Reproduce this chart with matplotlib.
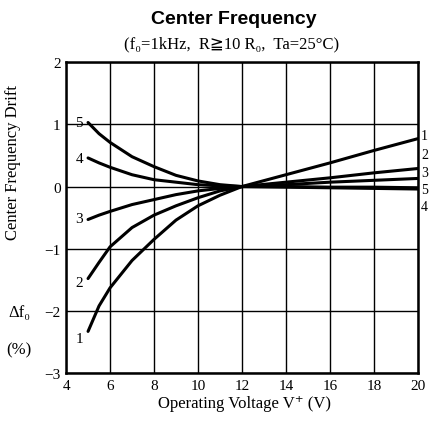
import matplotlib
matplotlib.use("Agg")
import matplotlib.pyplot as plt

# Data
volts = [5, 5.5, 6, 7, 8, 9, 10, 11, 12, 14, 16, 18, 20]
curve1 = [-2.33, -1.92, -1.63, -1.19, -0.85, -0.54, -0.31, -0.14, 0.0, 0.19, 0.38, 0.58, 0.77]
curve2 = [-1.48, -1.22, -0.97, -0.66, -0.46, -0.31, -0.18, -0.07, 0.0, 0.07, 0.14, 0.22, 0.29]
curve3 = [-0.53, -0.46, -0.40, -0.29, -0.21, -0.13, -0.07, -0.03, 0.0, 0.03, 0.07, 0.10, 0.13]
curve4 = [0.46, 0.38, 0.31, 0.19, 0.11, 0.07, 0.03, 0.01, 0.0, -0.01, -0.02, -0.03, -0.04]
curve5 = [1.03, 0.85, 0.71, 0.48, 0.32, 0.18, 0.09, 0.03, 0.0, 0.0, -0.01, -0.01, -0.02]
curves = {"1": curve1, "2": curve2, "3": curve3, "4": curve4, "5": curve5}

left_label_pos = {"5": 1.03, "4": 0.45, "3": -0.52, "2": -1.55, "1": -2.45}
right_label_pos = {"1": 0.82, "2": 0.52, "3": 0.23, "5": -0.05, "4": -0.32}

xticks = [4, 6, 8, 10, 12, 14, 16, 18, 20]
yticks = [-3, -2, -1, 0, 1, 2]

serif = ["Liberation Serif", "DejaVu Serif", "DejaVu Sans"]

fig = plt.figure(figsize=(4.29, 4.27), dpi=100)
ax = fig.add_axes([0.154, 0.124, 0.82, 0.728])

for name, vals in curves.items():
    ax.plot(volts, vals, color="black", lw=2.2, solid_capstyle="round",
            solid_joinstyle="round")

ax.set_xlim(4, 20)
ax.set_ylim(-3, 2)
ax.set_xticks(xticks)
ax.set_yticks(yticks)
ax.set_xticklabels([str(t) for t in xticks], family=serif, fontsize=11)
ax.set_yticklabels(["\u2212" + str(-t) if t < 0 else str(t) for t in yticks],
                   family=serif, fontsize=11)
ax.tick_params(length=0, pad=4)
ax.grid(True, color="black", lw=1.0)
for s in ax.spines.values():
    s.set_linewidth(1.8)

for k, y in left_label_pos.items():
    ax.text(4.6, y, k, family=serif, fontsize=11, ha="center", va="center")
for k, y in right_label_pos.items():
    ax.text(20.15, y, k, family=serif, fontsize=10, ha="left", va="center", clip_on=False)

fig.text(0.545, 0.955, "Center Frequency", family=["Liberation Sans", "DejaVu Sans"],
         fontweight="bold", fontsize=14, ha="center", va="center")
fig.text(0.54, 0.895, "(f\u2080=1kHz,  R\u226710 R\u2080,  Ta=25\u00b0C)", family=serif,
         fontsize=12, ha="center", va="center")
fig.text(0.03, 0.62, "Center Frequency Drift", family=serif, fontsize=12,
         rotation=90, ha="center", va="center")
fig.text(0.045, 0.268, "\u0394f\u2080", family=serif, fontsize=12, ha="center", va="center")
fig.text(0.045, 0.18, "(%)", family=serif, fontsize=12, ha="center", va="center")
fig.text(0.57, 0.054, "Operating Voltage V\u207a (V)", family=serif, fontsize=12,
         ha="center", va="center")

fig.savefig("out.png", dpi=100)
